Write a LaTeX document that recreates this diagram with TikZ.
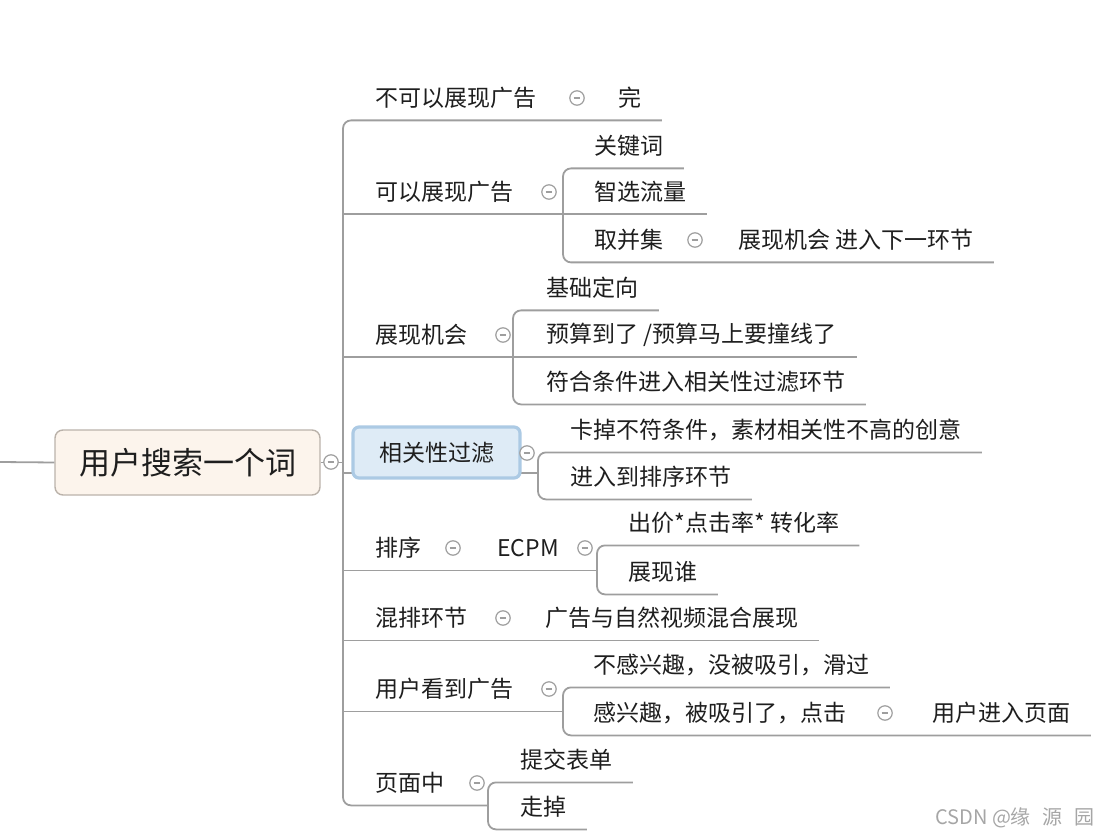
\documentclass[tikz,border=0pt]{standalone}
\usepackage{fontspec}
\newfontfamily\cjk{Noto Sans CJK SC}
\usetikzlibrary{positioning,calc}

\definecolor{linegray}{RGB}{158,158,158}
\definecolor{rootfill}{RGB}{252,244,236}
\definecolor{rootdraw}{RGB}{186,178,170}
\definecolor{selfill}{RGB}{222,235,246}
\definecolor{seldraw}{RGB}{172,202,228}
\definecolor{ink}{RGB}{30,30,30}

\tikzset{
  link/.style={draw=linegray,line width=0.9pt,rounded corners=4pt},
  topic/.style={anchor=west,inner xsep=10pt,inner ysep=0pt,minimum height=22pt,
    text=ink,font=\cjk\fontsize{11.5}{13}\selectfont},
  fold/.style={circle,draw=linegray,fill=white,line width=0.6pt,minimum size=7.2pt,inner sep=0pt,
    path picture={\draw[linegray,line width=0.7pt]
      ([xshift=-1.7pt]path picture bounding box.center) -- ([xshift=1.7pt]path picture bounding box.center);}},
  rootbox/.style={draw=rootdraw,fill=rootfill,line width=0.7pt,rounded corners=4pt,
    minimum width=132.5pt,minimum height=32.5pt,text=ink,font=\cjk\fontsize{15.5}{17}\selectfont},
  selbox/.style={draw=seldraw,fill=selfill,line width=1.6pt,rounded corners=3pt,
    minimum width=83.5pt,minimum height=25.5pt,text=ink,font=\cjk\fontsize{11.5}{13}\selectfont},
}

\begin{document}
\begin{tikzpicture}[x=0.5pt,y=-0.5pt]
  \useasboundingbox (0,0) rectangle (1107,839);

  \node[rootbox] (root) at (187.5,462.5) {用户搜索一个词};
  \coordinate (in) at (0,462);
  \coordinate (trunk) at (343,0);
  \coordinate (b2) at (563,0);
  \coordinate (b3) at (513,0);
  \coordinate (b4) at (538,0);
  \coordinate (b5) at (597,0);
  \coordinate (b7) at (563,0);
  \coordinate (b8) at (488,0);

  \node[topic] (n1) at (355,98) {不可以展现广告};
  \node[topic] (n1a) at (598,98) {完};
  \node[topic] (n2) at (355,192) {可以展现广告};
  \node[topic] (n2a) at (574,146) {关键词};
  \node[topic] (n2b) at (574,192) {智选流量};
  \node[topic] (n2c) at (574,240) {取并集};
  \node[topic] (n2c1) at (718,240) {展现机会 进入下一环节};
  \node[topic] (n3) at (355,335) {展现机会};
  \node[topic] (n3a) at (526,288) {基础定向};
  \node[topic] (n3b) at (526,335) {预算到了 /预算马上要撞线了};
  \node[topic] (n3c) at (526,382) {符合条件进入相关性过滤环节};
  \node[topic] (n4a) at (550,430) {卡掉不符条件，素材相关性不高的创意};
  \node[topic] (n4b) at (550,477) {进入到排序环节};
  \node[topic] (n5) at (355,548) {排序};
  \node[topic] (n5a) at (477,548) {ECPM};
  \node[topic] (n5a1) at (608,523) {出价*点击率* 转化率};
  \node[topic] (n5a2) at (608,572) {展现谁};
  \node[topic] (n6) at (355,618) {混排环节};
  \node[topic] (n6a) at (525,618) {广告与自然视频混合展现};
  \node[topic] (n7) at (355,689) {用户看到广告};
  \node[topic] (n7a) at (573,665) {不感兴趣，没被吸引，滑过};
  \node[topic] (n7b) at (573,713) {感兴趣，被吸引了，点击};
  \node[topic] (n7b1) at (912,713) {用户进入页面};
  \node[topic] (n8) at (355,783) {页面中};
  \node[topic] (n8a) at (500,760) {提交表单};
  \node[topic] (n8b) at (500,807) {走掉};

  \draw[link] (in) -- (root.west);
  \draw[link] (root.east) -- (root.east -| trunk);
  \draw[link] (n1a.south east) -- (n1.south -| trunk) -- (n8.south -| trunk) -- (n8.south -| b8);
  \draw[link] (n2.south -| trunk) -- (n2b.south east);
  \draw[link] (n2a.south east) -- (n2a.south -| b2) -- (n2c.south -| b2) -- (n2c1.south east);
  \draw[link] (n3.south -| trunk) -- (n3b.south east);
  \draw[link] (n3a.south east) -- (n3a.south -| b3) -- (n3c.south -| b3) -- (n3c.south east);
  \draw[link] (trunk |- 0,473) -- (b4 |- 0,473);
  \draw[link] (n4a.south east) -- (n4a.south -| b4) -- (n4b.south -| b4) -- (n4b.south east);
  \draw[link] (n5.south -| trunk) -- (n5.south -| b5);
  \draw[link] (n5a1.south east) -- (n5a1.south -| b5) -- (n5a2.south -| b5) -- (n5a2.south east);
  \draw[link] (n6.south -| trunk) -- (n6a.south east);
  \draw[link] (n7.south -| trunk) -- (n7.south -| b7);
  \draw[link] (n7a.south east) -- (n7a.south -| b7) -- (n7b.south -| b7) -- (n7b1.south east);
  \draw[link] (n8a.south east) -- (n8a.south -| b8) -- (n8b.south -| b8) -- (n8b.south east);

  \node[selbox] (n4) at (436.5,452.5) {相关性过滤};

  \foreach \n/\x/\y in {f0/331/462,f1/577/98,f2/549/192,f2c/695/240,f3/503/335,f4/527/453,
    f5/453/548,f5a/585/548,f6/503/618,f7/549/689,f7b/885/713,f8/477/783}
    \node[fold] (\n) at (\x,\y) {};

  \node[anchor=east,text=black!35,font=\cjk\fontsize{10}{12}\selectfont] (mark) at (1102,818)
    {CSDN @缘\hspace{6pt}源\hspace{6pt}园};
\end{tikzpicture}
\end{document}
